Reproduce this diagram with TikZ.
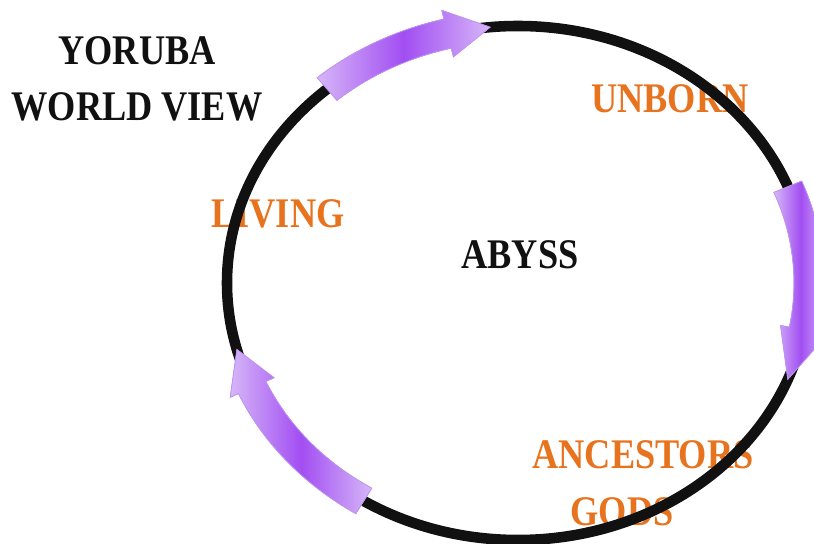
\documentclass[tikz,border=0pt]{standalone}
\usepackage{fontspec}
\newfontfamily\ringfont[FakeStretch=0.86]{Liberation Serif}
\usetikzlibrary{calc}

\definecolor{inkblack}{HTML}{111111}
\definecolor{realmorange}{HTML}{E8731E}
\definecolor{arrowlight}{HTML}{D6B6F8}
\definecolor{arrowdeep}{HTML}{A24EF2}
\definecolor{arrowedge}{HTML}{BC96EC}

% ring geometry (picture units)
\newcommand{\ringcx}{518}
\newcommand{\ringcy}{261}
\newcommand{\ringrx}{291}
\newcommand{\ringry}{257}
\newcommand{\bodyw}{15}
\newcommand{\headw}{24}

% #1 tail angle, #2 head base angle, #3 tip angle, #4 shading angle
\newcommand{\cyclearrow}[4]{%
  \shade[ringarrow, shading angle=#4]
    plot[domain=#1:#2, samples=30] ({\ringcx+(\ringrx+\bodyw)*cos(\x)},{\ringcy+(\ringry+\bodyw)*sin(\x)})
    -- ({\ringcx+(\ringrx+\headw)*cos(#2)},{\ringcy+(\ringry+\headw)*sin(#2)})
    -- ({\ringcx+\ringrx*cos(#3)},{\ringcy+\ringry*sin(#3)})
    -- ({\ringcx+(\ringrx-\headw)*cos(#2)},{\ringcy+(\ringry-\headw)*sin(#2)})
    -- plot[domain=#2:#1, samples=30] ({\ringcx+(\ringrx-\bodyw)*cos(\x)},{\ringcy+(\ringry-\bodyw)*sin(\x)})
    -- cycle;
  \draw[ringarrow, fill=none]
    plot[domain=#1:#2, samples=30] ({\ringcx+(\ringrx+\bodyw)*cos(\x)},{\ringcy+(\ringry+\bodyw)*sin(\x)})
    -- ({\ringcx+(\ringrx+\headw)*cos(#2)},{\ringcy+(\ringry+\headw)*sin(#2)})
    -- ({\ringcx+\ringrx*cos(#3)},{\ringcy+\ringry*sin(#3)})
    -- ({\ringcx+(\ringrx-\headw)*cos(#2)},{\ringcy+(\ringry-\headw)*sin(#2)})
    -- plot[domain=#2:#1, samples=30] ({\ringcx+(\ringrx-\bodyw)*cos(\x)},{\ringcy+(\ringry-\bodyw)*sin(\x)})
    -- cycle;
}

\begin{document}
\begin{tikzpicture}[x=0.03cm, y=0.03cm,
  title/.style={font=\ringfont\bfseries\fontsize{36}{48}\selectfont, text=inkblack,
    align=center, inner sep=0pt},
  realm/.style={title, text=realmorange},
  ring/.style={draw=inkblack, line width=9pt},
  ringarrow/.style={draw=arrowedge, line width=0.6pt,
    left color=arrowlight, right color=arrowlight, middle color=arrowdeep}
]
  \useasboundingbox (0,0) rectangle (814,544);
  \clip (0,0) rectangle (814,544);

  \node[title] (worldview) at (137,465) {YORUBA\\WORLD VIEW};
  \node[title] (abyss) at (520,289) {ABYSS};
  \node[realm] (unborn) at (670,445) {UNBORN};
  \node[realm] (living) at (278,330) {LIVING};
  \node[realm] (ancestors) at (643,89) {ANCESTORS};
  \node[realm] (gods) at (622,32) {GODS};

  % the cycle
  \draw[ring] (\ringcx,\ringcy) ellipse [x radius=\ringrx, y radius=\ringry];

  \cyclearrow{131}{104}{95.5}{0}
  \cyclearrow{22}{-10.5}{-22}{90}
  \cyclearrow{238}{204}{195}{-50}
\end{tikzpicture}
\end{document}
